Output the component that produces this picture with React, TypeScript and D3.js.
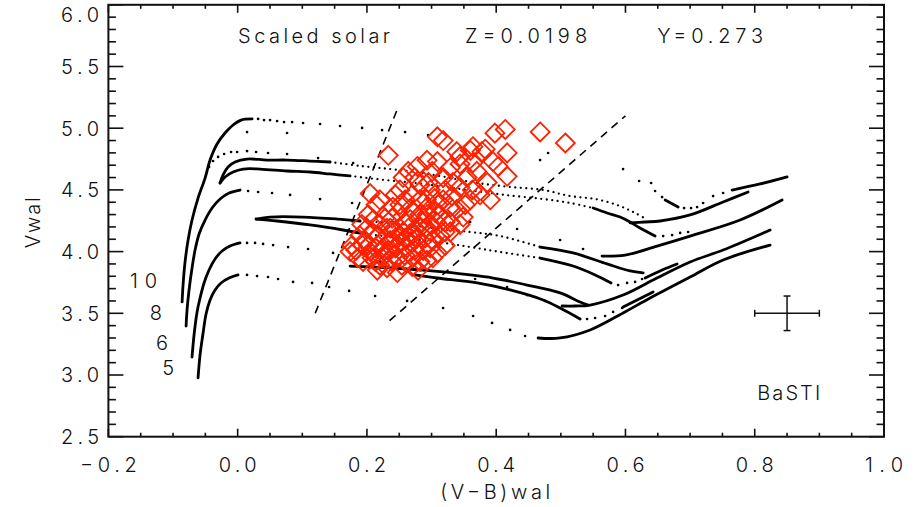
import React from 'react';
import * as d3 from 'd3';

type Pt = [number, number];

const W = 916;
const H = 507;
const FONT = "Inter, Lato, 'DejaVu Sans', sans-serif";

// Axis ticks
const xMajor = [-0.2, 0.0, 0.2, 0.4, 0.6, 0.8, 1.0];
const xTickLabels = ['\u22120.2', '0.0', '0.2', '0.4', '0.6', '0.8', '1.0'];
const yMajor = [2.5, 3.0, 3.5, 4.0, 4.5, 5.0, 5.5, 6.0];
const yTickLabels = ['2.5', '3.0', '3.5', '4.0', '4.5', '5.0', '5.5', '6.0'];

// Isochrone ages labelled at the lower end of each main sequence
const ageLabels = ['10', '8', '6', '5'];

// Slow evolutionary phases (drawn solid)
const solidTracks: Pt[][] = [
  [[-0.086, 3.592], [-0.0845, 3.729], [-0.0814, 3.916], [-0.0767, 4.094], [-0.0706, 4.256], [-0.0613, 4.434], [-0.0504, 4.596], [-0.0427, 4.742], [-0.0319, 4.872], [-0.0195, 4.961], [-0.0071, 5.026], [0.0053, 5.066], [0.0223, 5.075]],
  [[-0.0272, 4.556], [-0.0226, 4.621], [-0.0149, 4.686], [-0.004, 4.726], [0.0145, 4.75], [0.0455, 4.742], [0.0764, 4.742], [0.112, 4.734], [0.143, 4.726]],
  [[-0.0272, 4.556], [-0.0195, 4.605], [-0.0071, 4.645], [0.0084, 4.669], [0.0347, 4.669], [0.0764, 4.653], [0.112, 4.645], [0.143, 4.629], [0.1739, 4.613]],
  [[-0.0798, 3.397], [-0.0783, 3.527], [-0.0752, 3.689], [-0.0706, 3.867], [-0.0659, 4.013], [-0.0597, 4.143], [-0.0504, 4.256], [-0.0396, 4.353], [-0.0272, 4.426], [-0.0133, 4.475], [0.0037, 4.499]],
  [[-0.0706, 3.146], [-0.0675, 3.324], [-0.0628, 3.511], [-0.0582, 3.624], [-0.052, 3.746], [-0.0443, 3.851], [-0.035, 3.94], [-0.0241, 4.005], [-0.0118, 4.045], [0.0037, 4.07]],
  [[-0.0613, 2.976], [-0.0582, 3.163], [-0.0535, 3.34], [-0.0489, 3.494], [-0.0427, 3.608], [-0.035, 3.689], [-0.0257, 3.746], [-0.0133, 3.786], [0.0006, 3.811]],
  [[0.0285, 4.264], [0.0501, 4.28], [0.1012, 4.28], [0.1538, 4.264], [0.1894, 4.248]],
  [[0.0285, 4.264], [0.061, 4.248], [0.112, 4.216], [0.1631, 4.175], [0.1971, 4.143]],
  [[0.1739, 3.883], [0.2405, 3.867], [0.3178, 3.835], [0.3952, 3.786], [0.4478, 3.729], [0.4989, 3.665], [0.5298, 3.592], [0.5422, 3.567]],
  [[0.2745, 3.811], [0.3085, 3.786], [0.3705, 3.746], [0.4215, 3.689], [0.4725, 3.608], [0.4989, 3.543], [0.5298, 3.454]],
  [[0.5963, 3.551], [0.6428, 3.673]],
  [[0.4648, 3.3], [0.4989, 3.3], [0.5453, 3.365], [0.5963, 3.503], [0.6381, 3.624], [0.7, 3.794], [0.7511, 3.932], [0.8238, 4.053]],
  [[0.5019, 3.559], [0.5221, 3.559], [0.5453, 3.567], [0.5963, 3.648], [0.6428, 3.77], [0.7, 3.916], [0.7511, 4.013], [0.8238, 4.175]],
  [[0.5638, 3.964], [0.5994, 3.972], [0.6489, 4.045], [0.7, 4.126], [0.7774, 4.256], [0.8423, 4.418]],
  [[0.6072, 4.232], [0.6304, 4.24], [0.6536, 4.248], [0.7, 4.297], [0.7511, 4.402], [0.7898, 4.483]],
  [[0.765, 4.499], [0.8083, 4.548], [0.8501, 4.605]],
  [[0.6614, 4.418], [0.6815, 4.361]],
  [[0.5499, 4.353], [0.5716, 4.313], [0.5917, 4.28], [0.6072, 4.24], [0.6226, 4.191], [0.6458, 4.126]],
  [[0.4679, 4.037], [0.519, 3.989], [0.5716, 3.9], [0.6072, 3.843], [0.6273, 3.827]],
  [[0.4679, 3.948], [0.519, 3.883], [0.553, 3.811], [0.5778, 3.746]],
  [[0.6304, 3.786], [0.6567, 3.851], [0.6799, 3.9]],
];

// Closely spaced model points (drawn as a dotted line)
const denseTracks: Pt[][] = [
  [[0.143, 4.726], [0.1894, 4.694], [0.2358, 4.669], [0.2745, 4.645], [0.3209, 4.605], [0.3705, 4.556], [0.4215, 4.524], [0.4725, 4.499], [0.5143, 4.45], [0.553, 4.426], [0.587, 4.378], [0.6118, 4.321], [0.6319, 4.264]],
  [[0.1739, 4.613], [0.2281, 4.58], [0.2745, 4.556], [0.3209, 4.524], [0.3674, 4.491], [0.4137, 4.459], [0.4725, 4.426], [0.5143, 4.394], [0.5499, 4.353]],
  [[0.1894, 4.248], [0.2513, 4.224], [0.3023, 4.191], [0.3596, 4.159], [0.406, 4.126], [0.4679, 4.037]],
  [[0.1971, 4.143], [0.2513, 4.11], [0.3085, 4.078], [0.3596, 4.037], [0.406, 3.997], [0.4679, 3.948]],
];

// Fast phases: individual model points
const sparsePoints: Pt[] = [
  [0.0316, 5.075], [0.0408, 5.066], [0.0501, 5.066], [0.061, 5.058], [0.0718, 5.05], [0.0842, 5.05], [0.1012, 5.042], [0.1275, 5.034], [0.1584, 5.018], [0.1925, 5.002], [0.2234, 4.985], [0.259, 4.969], [0.2946, 4.945],
  [0.4679, 4.742], [0.4803, 4.799], [0.5963, 4.669], [0.6211, 4.572], [0.6397, 4.556], [0.6458, 4.491], [0.6567, 4.442],
  [0.6907, 4.353], [0.7015, 4.353], [0.7108, 4.361], [0.7201, 4.394], [0.7356, 4.45], [0.7511, 4.475],
  [0.0145, 4.969], [0.0764, 4.961],
  [-0.0443, 4.686], [-0.0381, 4.734], [-0.0303, 4.767], [-0.021, 4.791], [-0.0102, 4.807], [-0.0009, 4.807], [0.0145, 4.815], [0.0285, 4.807], [0.047, 4.799], [0.0764, 4.791], [0.1244, 4.758], [0.1786, 4.718],
  [0.0161, 4.491], [0.0316, 4.483], [0.0532, 4.475], [0.0811, 4.459], [0.1275, 4.426], [0.177, 4.394], [0.2281, 4.345], [0.2822, 4.297], [0.3596, 4.24], [0.4323, 4.183], [0.4989, 4.094], [0.5344, 4.021],
  [0.0145, 4.07], [0.0269, 4.07], [0.0393, 4.062], [0.0548, 4.053], [0.078, 4.037], [0.1089, 4.021], [0.1476, 3.989], [0.2203, 3.916], [0.2946, 3.851], [0.3674, 3.778], [0.4168, 3.713], [0.4478, 3.648], [0.4756, 3.6],
  [0.0145, 3.811], [0.03, 3.802], [0.047, 3.794], [0.0625, 3.778], [0.0857, 3.754], [0.1151, 3.746], [0.1414, 3.713], [0.1724, 3.681], [0.2126, 3.64], [0.2621, 3.6], [0.3178, 3.543], [0.3643, 3.478], [0.3936, 3.422], [0.4215, 3.365], [0.4447, 3.316],
  [0.5406, 3.454], [0.553, 3.462], [0.5685, 3.478], [0.5809, 3.511], [0.5948, 3.543],
  [0.5886, 3.729], [0.6025, 3.746], [0.6149, 3.754], [0.6257, 3.778],
  [0.6583, 4.126], [0.6722, 4.134], [0.6846, 4.151], [0.6969, 4.159],
];

// Observed stars: (V-B)wal colour and Vwal
const starColor = [0.468, 0.507, 0.414, 0.398, 0.309, 0.318, 0.233, 0.364, 0.383, 0.417, 0.395, 0.403, 0.417, 0.391, 0.344, 0.339, 0.36, 0.378, 0.364, 0.344,
  0.293, 0.278, 0.318, 0.333, 0.256, 0.264, 0.355, 0.344, 0.363, 0.205, 0.22, 0.24, 0.293, 0.318, 0.339, 0.349, 0.386, 0.37, 0.329, 0.301,
  0.282, 0.298, 0.321, 0.27, 0.251, 0.282, 0.305, 0.329, 0.36, 0.313, 0.329, 0.344, 0.329, 0.309, 0.293, 0.247, 0.216, 0.177, 0.192, 0.186,
  0.197, 0.208, 0.217, 0.228, 0.236, 0.244, 0.251, 0.259, 0.267, 0.274, 0.282, 0.29, 0.298, 0.305, 0.313, 0.321, 0.223, 0.239, 0.259, 0.274,
  0.282, 0.298, 0.205, 0.228, 0.248, 0.267, 0.213, 0.202, 0.233, 0.254, 0.27, 0.279, 0.29, 0.302, 0.244, 0.22, 0.264, 0.285, 0.248, 0.27,
  0.189, 0.214, 0.259, 0.295, 0.274, 0.244, 0.309, 0.332, 0.352, 0.375,
  0.183, 0.194, 0.202, 0.208, 0.217, 0.225, 0.231, 0.236, 0.241, 0.248, 0.256, 0.262, 0.267, 0.271, 0.278, 0.282, 0.287, 0.293, 0.299, 0.307,
  0.22, 0.231, 0.254, 0.2, 0.21, 0.239, 0.251, 0.273, 0.292, 0.31, 0.321, 0.302, 0.279, 0.244, 0.259, 0.228, 0.213, 0.193, 0.174, 0.321];
const starMag = [4.97, 4.88, 4.99, 4.96, 4.93, 4.9, 4.78, 4.85, 4.83, 4.8, 4.73, 4.69, 4.61, 4.42, 4.77, 4.81, 4.82, 4.81, 4.72, 4.71,
  4.74, 4.69, 4.6, 4.56, 4.6, 4.65, 4.6, 4.52, 4.5, 4.47, 4.42, 4.36, 4.36, 4.42, 4.34, 4.28, 4.56, 4.65, 4.68, 4.65,
  4.54, 4.5, 4.5, 4.46, 4.5, 4.42, 4.43, 4.36, 4.42, 4.3, 4.24, 4.22, 4.16, 3.99, 3.93, 3.83, 3.85, 4.05, 4.22, 3.95,
  4.09, 4.16, 4.05, 4.11, 4.19, 4.03, 4.13, 4.24, 4.08, 4.18, 4.3, 4.11, 4.22, 4.32, 4.13, 4.24, 3.95, 3.92, 3.97, 4.01,
  3.92, 4.03, 4.0, 4.27, 4.32, 4.35, 3.92, 4.3, 4.01, 4.08, 4.13, 4.06, 4.19, 4.09, 4.17, 4.22, 4.19, 4.24, 3.95, 3.88,
  4.13, 4.38, 4.42, 4.56, 4.6, 4.46, 4.73, 4.45, 4.38, 4.46,
  4.01, 3.92, 4.05, 3.95, 4.13, 4.03, 4.19, 4.09, 3.97, 4.05, 4.16, 4.03, 4.26, 3.95, 4.11, 4.19, 4.01, 4.3, 4.16, 4.24,
  3.89, 3.87, 3.89, 4.19, 4.26, 4.27, 4.38, 4.32, 4.42, 4.38, 4.05, 3.95, 3.85, 4.11, 4.11, 3.97, 4.03, 4.05, 4.0, 4.16];

// Dividing lines
const dashedLines: Pt[][] = [
  [[0.12, 3.5], [0.246, 5.14]],
  [[0.235, 3.44], [0.6, 5.1]],
];

// Typical uncertainty
const errCenter: Pt = [0.85, 3.5];
const errX = 0.05;
const errY = 0.14;

export default function App() {
  const x = d3.scaleLinear().domain([-0.2, 1.0]).range([108.4, 884]);
  const y = d3.scaleLinear().domain([2.5, 6.0]).range([436.7, 4.8]);
  const [x0, x1] = x.range();
  const [y0, y1] = y.range();

  const smooth = d3.line<Pt>().x(d => x(d[0])).y(d => y(d[1])).curve(d3.curveCatmullRom.alpha(0.5));
  const straight = d3.line<Pt>().x(d => x(d[0])).y(d => y(d[1]));

  const xMinor = d3.range(0, 25).map(i => -0.2 + i * 0.05).filter((_, i) => i % 4 !== 0);
  const yMinor = d3.range(0, 36).map(i => 2.5 + i * 0.1).filter((_, i) => i % 5 !== 0);

  const diamond = 'M0,-9.5L9.5,0L0,9.5L-9.5,0Z';
  const txt = { fontFamily: FONT, fontSize: 20, fill: '#111', fontWeight: 300 } as const;

  return (
    <svg width={W} height={H} style={{ position: 'absolute', left: 0, top: 0, background: '#fff' }}>
      <rect x={0} y={0} width={W} height={H} fill="#fff" />

      {/* model tracks */}
      <g fill="none" stroke="#000" strokeLinecap="round" strokeLinejoin="round">
        {solidTracks.map((t, i) => (
          <path key={'s' + i} d={smooth(t) || ''} strokeWidth={2.8} />
        ))}
        {denseTracks.map((t, i) => (
          <path key={'d' + i} d={smooth(t) || ''} strokeWidth={2.3} strokeDasharray="0 5.5" />
        ))}
      </g>
      <g fill="#000">
        {sparsePoints.map((p, i) => (
          <circle key={'p' + i} cx={x(p[0])} cy={y(p[1])} r={1.35} />
        ))}
      </g>

      {/* dashed dividing lines */}
      <g fill="none" stroke="#000" strokeWidth={1.6} strokeDasharray="8 6">
        {dashedLines.map((l, i) => (
          <path key={'l' + i} d={straight(l) || ''} />
        ))}
      </g>

      {/* stars */}
      <g fill="none" stroke="#ff2000" strokeWidth={1.8}>
        {starColor.map((c, i) => (
          <path key={'st' + i} d={diamond} transform={`translate(${x(c)},${y(starMag[i])})`} />
        ))}
      </g>

      {/* error bar */}
      <g stroke="#111" strokeWidth={1.5} fill="none">
        <line x1={x(errCenter[0] - errX)} x2={x(errCenter[0] + errX)} y1={y(errCenter[1])} y2={y(errCenter[1])} />
        <line x1={x(errCenter[0] - errX)} x2={x(errCenter[0] - errX)} y1={y(errCenter[1]) - 3.5} y2={y(errCenter[1]) + 3.5} />
        <line x1={x(errCenter[0] + errX)} x2={x(errCenter[0] + errX)} y1={y(errCenter[1]) - 3.5} y2={y(errCenter[1]) + 3.5} />
        <line x1={x(errCenter[0])} x2={x(errCenter[0])} y1={y(errCenter[1] - errY)} y2={y(errCenter[1] + errY)} />
        <line x1={x(errCenter[0]) - 3.5} x2={x(errCenter[0]) + 3.5} y1={y(errCenter[1] - errY)} y2={y(errCenter[1] - errY)} />
        <line x1={x(errCenter[0]) - 3.5} x2={x(errCenter[0]) + 3.5} y1={y(errCenter[1] + errY)} y2={y(errCenter[1] + errY)} />
      </g>

      {/* ticks */}
      <g stroke="#111" strokeWidth={1.6}>
        {xMajor.map((v, i) => (
          <g key={'xm' + i}>
            <line x1={x(v)} x2={x(v)} y1={y0} y2={y0 - 8} />
            <line x1={x(v)} x2={x(v)} y1={y1} y2={y1 + 8} />
          </g>
        ))}
        {xMinor.map((v, i) => (
          <g key={'xn' + i}>
            <line x1={x(v)} x2={x(v)} y1={y0} y2={y0 - 4} />
            <line x1={x(v)} x2={x(v)} y1={y1} y2={y1 + 4} />
          </g>
        ))}
        {yMajor.map((v, i) => (
          <g key={'ym' + i}>
            <line x1={x0} x2={x0 + 15} y1={y(v)} y2={y(v)} />
            <line x1={x1} x2={x1 - 15} y1={y(v)} y2={y(v)} />
          </g>
        ))}
        {yMinor.map((v, i) => (
          <g key={'yn' + i}>
            <line x1={x0} x2={x0 + 7.5} y1={y(v)} y2={y(v)} />
            <line x1={x1} x2={x1 - 7.5} y1={y(v)} y2={y(v)} />
          </g>
        ))}
      </g>

      {/* frame */}
      <rect x={x0} y={y1} width={x1 - x0} height={y0 - y1} fill="none" stroke="#111" strokeWidth={2} />

      {/* tick labels */}
      {yMajor.map((v, i) => (
        <text key={'yl' + i} {...txt} x={99} y={Math.max(y(v) + 7.3, 22)} textAnchor="end" textLength={38} lengthAdjust="spacing">
          {yTickLabels[i]}
        </text>
      ))}
      {xMajor.map((v, i) => (
        <text key={'xl' + i} {...txt} x={x(v)} y={471.5} textAnchor="middle" textLength={i === 0 ? 57 : 38} lengthAdjust="spacing">
          {xTickLabels[i]}
        </text>
      ))}

      {/* axis titles */}
      <text {...txt} x={(x0 + x1) / 2 - 1} y={498.5} textAnchor="middle" textLength={110} lengthAdjust="spacing">(V{'\u2212'}B)wal</text>
      <text {...txt} transform={`translate(40,${(y0 + y1) / 2 + 2}) rotate(-90)`} textAnchor="middle" textLength={51} lengthAdjust="spacing">Vwal</text>

      {/* annotations */}
      <text {...txt} x={x(0.0006)} y={y(5.69)} textLength={152} lengthAdjust="spacing">Scaled solar</text>
      <text {...txt} x={x(0.3519)} y={y(5.69)} textLength={122} lengthAdjust="spacing">Z=0.0198</text>
      <text {...txt} x={x(0.649)} y={y(5.69)} textLength={106} lengthAdjust="spacing">Y=0.273</text>
      <text {...txt} x={x(0.8038)} y={y(2.797)} textLength={63} lengthAdjust="spacing">BaSTI</text>
      <text {...txt} x={x(-0.1247)} y={y(3.705)} textAnchor="end" textLength={27} lengthAdjust="spacing">{ageLabels[0]}</text>
      <text {...txt} x={x(-0.117)} y={y(3.444)} textAnchor="end">{ageLabels[1]}</text>
      <text {...txt} x={x(-0.1077)} y={y(3.203)} textAnchor="end">{ageLabels[2]}</text>
      <text {...txt} x={x(-0.0984)} y={y(3.0)} textAnchor="end">{ageLabels[3]}</text>
    </svg>
  );
}
